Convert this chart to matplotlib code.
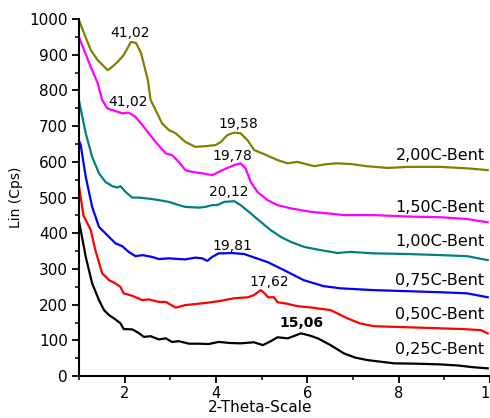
import matplotlib
matplotlib.use("Agg")
import matplotlib.pyplot as plt
from matplotlib.ticker import MultipleLocator

plt.rcParams['font.family'] = ['DejaVu Sans']

x_025 = [1.0, 1.04, 1.15, 1.29, 1.44, 1.55, 1.66, 1.8, 1.91, 1.98, 2.17, 2.31, 2.42, 2.57, 2.75, 2.9, 3.04, 3.19, 3.41, 3.63, 3.84, 4.06, 4.3, 4.54, 4.83, 5.03, 5.2, 5.35, 5.57, 5.7, 5.86, 6.05, 6.23, 6.51, 6.8, 7.05, 7.32, 7.9, 8.4, 8.92, 9.3, 9.64, 9.95]
y_025 = [435, 409, 334, 260, 213, 185, 171, 159, 148, 132, 131, 121, 110, 112, 103, 106, 96, 98, 91, 91, 90, 96, 93, 92, 95, 87, 98, 109, 106, 112, 120, 114, 106, 87, 64, 52, 45, 36, 35, 33, 30, 25, 22]

x_050 = [1.0, 1.1, 1.26, 1.36, 1.51, 1.66, 1.8, 1.91, 1.98, 2.17, 2.39, 2.53, 2.75, 2.9, 3.12, 3.33, 3.55, 3.77, 4.06, 4.39, 4.7, 4.83, 4.98, 5.06, 5.14, 5.27, 5.35, 5.55, 5.79, 6.1, 6.51, 6.88, 7.15, 7.45, 8.2, 8.92, 9.4, 9.8, 9.95]
y_050 = [535, 450, 409, 353, 288, 269, 260, 250, 232, 225, 213, 215, 208, 208, 192, 199, 202, 205, 210, 218, 221, 227, 241, 233, 221, 221, 207, 203, 196, 192, 185, 162, 148, 140, 137, 134, 132, 129, 120]

x_075 = [1.0, 1.04, 1.15, 1.29, 1.44, 1.51, 1.66, 1.8, 1.95, 2.09, 2.24, 2.39, 2.6, 2.75, 2.97, 3.19, 3.33, 3.55, 3.7, 3.81, 3.92, 4.06, 4.18, 4.33, 4.62, 4.8, 5.14, 5.49, 5.92, 6.36, 6.73, 7.45, 8.2, 8.92, 9.5, 9.95]
y_075 = [660, 647, 558, 474, 418, 409, 390, 372, 364, 348, 336, 339, 334, 328, 330, 328, 327, 332, 330, 323, 334, 344, 344, 345, 342, 334, 319, 297, 269, 252, 246, 241, 238, 235, 232, 221]

x_100 = [1.0, 1.15, 1.29, 1.44, 1.58, 1.73, 1.84, 1.91, 2.02, 2.17, 2.31, 2.46, 2.6, 2.75, 2.97, 3.19, 3.33, 3.63, 3.77, 3.92, 4.03, 4.18, 4.4, 4.54, 4.76, 4.98, 5.2, 5.42, 5.64, 5.93, 6.29, 6.66, 6.95, 7.45, 8.2, 8.92, 9.5, 9.95]
y_100 = [773, 680, 614, 568, 544, 532, 528, 532, 516, 500, 500, 498, 496, 493, 488, 479, 474, 472, 474, 479, 479, 488, 490, 479, 456, 432, 409, 390, 376, 362, 353, 345, 348, 344, 342, 339, 336, 325]

x_150 = [1.0, 1.26, 1.41, 1.51, 1.62, 1.73, 1.95, 2.09, 2.24, 2.39, 2.53, 2.68, 2.9, 3.04, 3.19, 3.33, 3.48, 3.7, 3.92, 4.18, 4.4, 4.54, 4.65, 4.76, 4.91, 5.13, 5.35, 5.64, 5.86, 6.08, 6.44, 6.81, 7.45, 8.2, 8.92, 9.5, 9.95]
y_150 = [950, 866, 821, 773, 750, 745, 736, 738, 726, 703, 680, 656, 624, 619, 600, 577, 572, 568, 563, 579, 591, 596, 582, 544, 516, 493, 479, 470, 465, 460, 456, 451, 451, 447, 445, 440, 431]

x_200 = [1.0, 1.26, 1.41, 1.63, 1.7, 1.85, 1.98, 2.14, 2.25, 2.36, 2.51, 2.57, 2.68, 2.82, 2.97, 3.12, 3.33, 3.55, 3.77, 3.99, 4.11, 4.25, 4.4, 4.54, 4.69, 4.84, 5.05, 5.35, 5.57, 5.78, 6.15, 6.44, 6.66, 6.95, 7.3, 7.76, 8.2, 8.92, 9.5, 9.95]
y_200 = [997, 913, 885, 857, 863, 880, 899, 936, 933, 905, 829, 773, 745, 708, 689, 680, 656, 642, 644, 647, 656, 675, 682, 680, 661, 633, 622, 605, 596, 600, 588, 594, 596, 594, 588, 583, 586, 586, 582, 577]

series = [
    (x_025, y_025, 'black'),
    (x_050, y_050, '#ff0000'),
    (x_075, y_075, '#0000ff'),
    (x_100, y_100, '#008080'),
    (x_150, y_150, '#ff00ff'),
    (x_200, y_200, '#808000'),
]

series_labels = ['0,25C-Bent', '0,50C-Bent', '0,75C-Bent', '1,00C-Bent', '1,50C-Bent', '2,00C-Bent']
label_pos = [(9.88, 76), (9.88, 174), (9.88, 269), (9.88, 378), (9.88, 471), (9.88, 619)]

peak_labels = ['15,06', '17,62', '19,81', '20,12', '19,78', '41,02', '19,58', '41,02']
peak_pos = [(5.88, 148), (5.16, 263), (4.37, 364), (4.28, 515), (4.35, 616), (2.08, 767), (4.49, 706), (2.12, 961)]
peak_bold = [True, False, False, False, False, False, False, False]

fig = plt.figure(figsize=(4.9, 4.18), dpi=100)
ax = fig.add_axes([0.161, 0.100, 0.839, 0.8545])

for xs, ys, c in series:
    ax.plot(xs, ys, color=c, lw=1.6)

for (px, py), t in zip(label_pos, series_labels):
    ax.text(px, py, t, ha='right', va='center', fontsize=11.5)

for (px, py), t, b in zip(peak_pos, peak_labels, peak_bold):
    ax.text(px, py, t, ha='center', va='center', fontsize=10,
            fontweight='bold' if b else 'normal')

ax.set_xlim(1, 10)
ax.set_ylim(0, 1000)
ax.set_xticks([2, 4, 6, 8, 10])
ax.xaxis.set_minor_locator(MultipleLocator(1))
ax.yaxis.set_major_locator(MultipleLocator(100))
ax.yaxis.set_minor_locator(MultipleLocator(50))
ax.tick_params(which='major', direction='out', length=5, width=1.3, labelsize=11, pad=3)
ax.tick_params(axis='x', which='major', labelsize=10.5, pad=2)
ax.tick_params(which='minor', direction='out', length=3, width=1.1)
for s in ['top', 'right']:
    ax.spines[s].set_visible(False)
for s in ['left', 'bottom']:
    ax.spines[s].set_linewidth(1.5)
ax.set_ylabel('Lin (Cps)', fontsize=10)
ax.yaxis.set_label_coords(-0.135, 0.5)
ax.set_xlabel('2-Theta-Scale', fontsize=11)
ax.xaxis.set_label_coords(0.44, -0.068)

fig.savefig('out.png', dpi=100)
